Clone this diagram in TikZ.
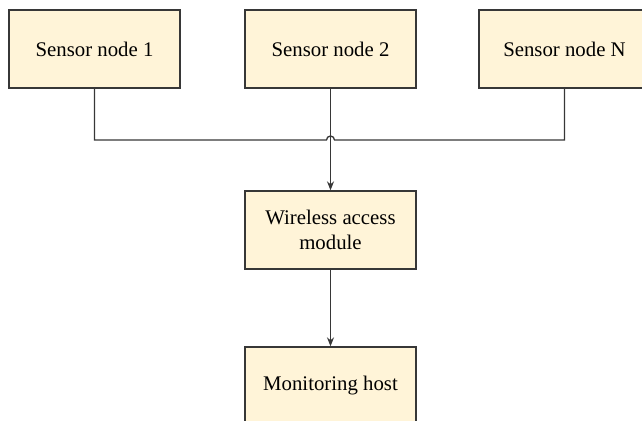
\documentclass[tikz,border=0pt]{standalone}
\usepackage{xcolor}
\definecolor{boxfill}{RGB}{255,244,216}
\definecolor{linegray}{RGB}{55,55,55}
\usepackage{fontspec}
\setmainfont{Liberation Serif}
\usepackage{tikz}
\usetikzlibrary{arrows.meta}

\begin{document}
\begin{tikzpicture}[x=0.5pt, y=-0.5pt,
    block/.style={draw=linegray, line width=0.65pt, fill=boxfill, minimum width=85.5pt, minimum height=39pt, align=center, inner sep=0pt},
    wire/.style={draw=linegray, line width=0.65pt},
    flow/.style={wire, -{Stealth[length=4.5pt, width=3.5pt]}}]
    \fontsize{10.4}{12.8}\selectfont
    \useasboundingbox (0, 0) rectangle (642, 421);
    \clip (0, 0) rectangle (642, 421);
    \node[block] (sn1) at (94.5, 49) {Sensor node 1};
    \node[block] (sn2) at (330.5, 49) {Sensor node 2};
    \node[block] (snN) at (564.5, 49) {Sensor node N};
    \node[block] (wam) at (330.5, 230) {Wireless access\\module};
    \node[block] (host) at (330.5, 386) {Monitoring host};
    \coordinate (hop) at (sn2.south |- 0, 140);
    \draw[wire] (sn1.south) |- ([xshift=-2pt]hop) arc[start angle=180, end angle=0, radius=2pt] -| (snN.south);
    \draw[flow] (sn2.south) -- (wam.north);
    \draw[flow] (wam.south) -- (host.north);
\end{tikzpicture}
\end{document}
